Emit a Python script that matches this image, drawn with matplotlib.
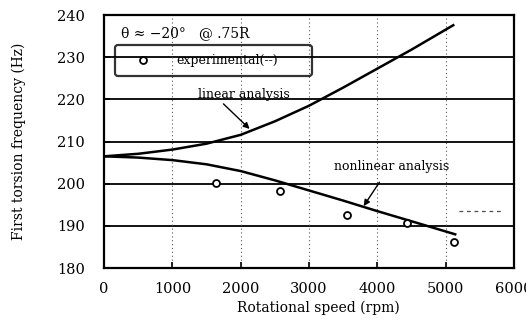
import matplotlib
matplotlib.use("Agg")
import matplotlib.pyplot as plt

# rotational speed (rpm) vs first torsion frequency (Hz)
linear_rpm = [0, 500, 1000, 1500, 2000, 2500, 3000, 3500, 4000, 4500, 5112]
linear_hz = [206.5, 207.1, 208.1, 209.5, 211.6, 214.8, 218.5, 222.8, 227.3, 231.8, 237.6]

nonlin_rpm = [0, 500, 1000, 1500, 2000, 2500, 3000, 3500, 4000, 4500, 5140]
nonlin_hz = [206.5, 206.2, 205.6, 204.6, 203.0, 200.8, 198.4, 196.0, 193.5, 191.1, 188.0]

exp_rpm = [1640, 2580, 3560, 4440, 5120]
exp_hz = [200.1, 198.2, 192.6, 190.6, 186.1]

dash_rpm = [5200, 5850]
dash_hz = [193.6, 193.6]

xticks = [0, 1000, 2000, 3000, 4000, 5000, 6000]
yticks = [180, 190, 200, 210, 220, 230, 240]

plt.rcParams["font.family"] = ["DejaVu Serif"]

fig = plt.figure(figsize=(5.26, 3.21), dpi=100)
ax = fig.add_axes([0.198, 0.165, 0.779, 0.788])

ax.set_xlim(0, 6000)
ax.set_ylim(180, 240)
ax.set_xticks(xticks)
ax.set_yticks(yticks)
ax.tick_params(direction="in", labelsize=10.5, length=4, width=1.2)
ax.tick_params(axis="x", pad=10)
ax.tick_params(axis="y", pad=14)
for s in ax.spines.values():
    s.set_linewidth(1.6)

# grid: solid horizontal, dotted vertical
for y in yticks[1:-1]:
    ax.axhline(y, color="black", lw=1.3, zorder=1)
for x in xticks[1:-1]:
    ax.axvline(x, color="0.35", lw=0.8, ls=(0, (1, 2.5)), zorder=1)

ax.plot(linear_rpm, linear_hz, color="black", lw=1.8, zorder=3)
ax.plot(nonlin_rpm, nonlin_hz, color="black", lw=1.8, zorder=3)
ax.plot(exp_rpm, exp_hz, ls="none", marker="o", ms=5, mfc="white",
        mec="black", mew=1.3, zorder=4, label="experimental(--)")
ax.plot(dash_rpm, dash_hz, color="0.3", lw=0.9, ls=(0, (3, 3)), zorder=2)

ax.annotate("linear analysis", xy=(2130, 213.0), xytext=(2040, 219.6),
            fontsize=9, ha="center", va="bottom",
            arrowprops=dict(arrowstyle="-|>", color="black", lw=1.0,
                            shrinkA=0, shrinkB=0,
                            relpos=(0.25, 0.0)))
ax.annotate("nonlinear analysis", xy=(3800, 194.7), xytext=(4210, 204.2),
            fontsize=9, ha="center", va="center",
            arrowprops=dict(arrowstyle="-|>", color="black", lw=1.0,
                            shrinkA=6, shrinkB=0,
                            relpos=(0.45, 0.0)))

ax.text(250, 235.7, "\u03b8 \u2248 \u221220\u00b0   @ .75R", fontsize=10,
        ha="left", va="center")

leg = ax.legend(loc="lower left", bbox_to_anchor=(0.027, 0.76, 0.48, 0.12),
                mode="expand", fontsize=9, frameon=True, fancybox=True,
                borderaxespad=0, handletextpad=1.2, borderpad=0.7,
                handlelength=3)
leg.get_frame().set_facecolor("none")
leg.get_frame().set_edgecolor("black")
leg.get_frame().set_linewidth(1.6)

ax.set_xlabel("Rotational speed (rpm)", fontsize=10)
ax.xaxis.set_label_coords(0.522, -0.13)
ax.set_ylabel("First torsion frequency (Hz)", fontsize=10)
ax.yaxis.set_label_coords(-0.19, 0.5)

fig.savefig("out.png", dpi=100)
